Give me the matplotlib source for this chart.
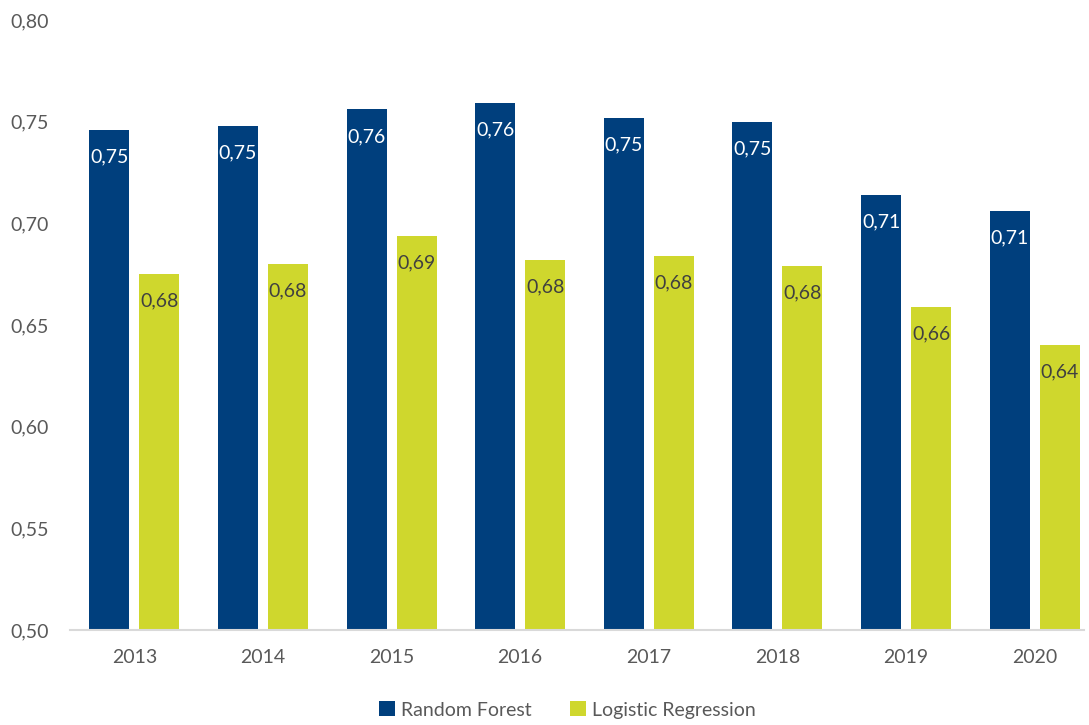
import matplotlib
matplotlib.use("Agg")
import matplotlib.pyplot as plt
import numpy as np

years = ["2013", "2014", "2015", "2016", "2017", "2018", "2019", "2020"]
random_forest = [0.746, 0.748, 0.756, 0.759, 0.752, 0.750, 0.714, 0.706]
logistic_regression = [0.675, 0.680, 0.694, 0.682, 0.684, 0.679, 0.659, 0.640]
series_names = ["Random Forest", "Logistic Regression"]
yticks = [0.50, 0.55, 0.60, 0.65, 0.70, 0.75, 0.80]

plt.rcParams['font.family'] = ['Lato', 'DejaVu Sans']

fig = plt.figure(figsize=(10.89, 7.25), dpi=100)
W, H = 1089, 725
left, right, top, bottom = 70, 1099, 20, 630
ax = fig.add_axes([left / W, 1 - bottom / H, (right - left) / W, (bottom - top) / H])

x = np.arange(len(years))
bw = 0.311
off = 0.194
c_rf = "#003f7d"
c_lr = "#cfd72d"
fs = 14
b1 = ax.bar(x - off, random_forest, bw, color=c_rf, label=series_names[0], zorder=2)
b2 = ax.bar(x + off, logistic_regression, bw, color=c_lr, label=series_names[1], zorder=2)

ax.set_ylim(0.5, 0.8)
ax.set_xlim(-0.5, 7.5)
ax.set_yticks(yticks)
ax.set_yticklabels([f"{v:.2f}".replace(".", ",") for v in yticks])
ax.set_xticks(x)
ax.set_xticklabels(years)
ax.tick_params(axis='both', length=0, labelsize=fs, colors="#595959")
ax.tick_params(axis='y', pad=15)
ax.tick_params(axis='x', pad=14)
for s in ["top", "right", "left"]:
    ax.spines[s].set_visible(False)
ax.spines["bottom"].set_color("#d9d9d9")
ax.spines["bottom"].set_linewidth(1.5)
ax.spines["bottom"].set_bounds(-0.5, 7.38)

for rect, v in zip(b1, random_forest):
    ax.annotate(f"{v:.2f}".replace(".", ","), (rect.get_x() + rect.get_width() / 2, v),
                xytext=(0, -27), textcoords="offset pixels",
                ha="center", va="center", color="white", fontsize=fs, zorder=3)
for rect, v in zip(b2, logistic_regression):
    ax.annotate(f"{v:.2f}".replace(".", ","), (rect.get_x() + rect.get_width() / 2, v),
                xytext=(0, -27), textcoords="offset pixels",
                ha="center", va="center", color="#404040", fontsize=fs, zorder=3)

fig.legend(handles=[b1, b2], labels=series_names, loc="center", bbox_to_anchor=(0.521, 1 - 710 / H),
           ncol=2, frameon=False, fontsize=fs, handlelength=0.8, handleheight=0.8,
           handletextpad=0.3, columnspacing=2.0, labelcolor="#595959")

fig.savefig("out.png", dpi=100)
